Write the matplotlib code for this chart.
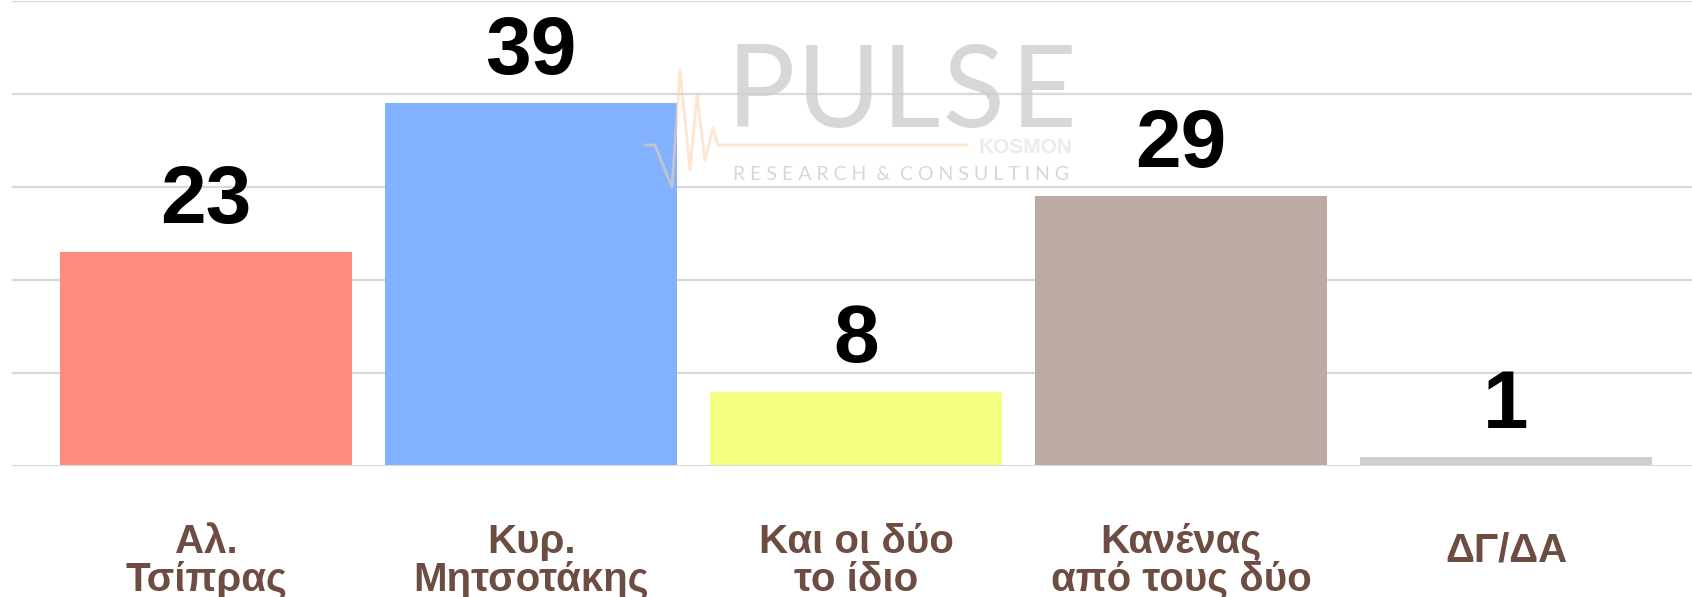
import matplotlib
matplotlib.use("Agg")
import matplotlib.pyplot as plt
from matplotlib.transforms import blended_transform_factory

categories = ["Αλ.\nΤσίπρας", "Κυρ.\nΜητσοτάκης", "Και οι δύο\nτο ίδιο", "Κανένας\nαπό τους δύο", "ΔΓ/ΔΑ"]
values = [23, 39, 8, 29, 1]
colors = ["#FF8A80", "#82B1FF", "#F4FF81", "#BCAAA4", "#CFCFCF"]
grid_levels = [10, 20, 30, 40, 50]

W, H = 1692, 597
fig = plt.figure(figsize=(W / 100, H / 100), dpi=100)
ax = fig.add_axes([12 / W, 1 - 466 / H, 1 - 12 / W, 465 / H])

x = list(range(len(categories)))
for lvl in grid_levels:
    ax.axhline(lvl, color="#D9D9D9", lw=1.6, zorder=0)
ax.axhline(0, color="#D9D9D9", lw=2.2, zorder=3)

ax.bar(x, values, width=0.9, color=colors, zorder=2)

for xi, v in zip(x, values):
    ax.annotate(str(v), xy=(xi, v), xytext=(0, 21), textcoords="offset points",
                ha="center", va="baseline", fontsize=59, fontweight="bold",
                family=["Liberation Sans", "DejaVu Sans"], color="black", zorder=5)

trans = blended_transform_factory(ax.transData, ax.transAxes)
for xi, lab in zip(x, categories):
    ypos = -0.204 if "\n" in lab else -0.181
    ax.text(xi, ypos, lab, transform=trans, ha="center", va="center",
            fontsize=29, fontweight="bold", color="#6D4C41", linespacing=1.0,
            family=["Liberation Sans", "DejaVu Sans"])

ax.set_xlim(-0.597, 4.572)
ax.set_ylim(0, 50)
ax.set_xticks([])
ax.set_yticks([])
for s in ax.spines.values():
    s.set_visible(False)

# watermark (logo)
logo_letters = ["P", "U", "L", "S", "E"]
logo_x = [727, 797, 882, 942, 1011]
for ch, lx in zip(logo_letters, logo_x):
    fig.text(lx / W, 1 - 127 / H, ch, fontsize=82, fontweight="normal",
             family=["Lato", "DejaVu Sans"], color="#CDCDCD", alpha=0.8,
             ha="left", va="baseline", zorder=10)
fig.text(733 / W, 1 - 180 / H, "R E S E A R C H  &  C O N S U L T I N G", fontsize=14,
         family=["Lato", "DejaVu Sans"], color="#BDBDBD", alpha=0.6,
         ha="left", va="baseline", zorder=10)
fig.text(1072 / W, 1 - 153 / H, "KOSMON", fontsize=15, fontweight="bold",
         family=["Liberation Sans", "DejaVu Sans"], color="#EBEBEB",
         ha="right", va="baseline", zorder=9)
hx = [645, 655, 672, 680, 690, 697, 705, 713, 718, 967]
hy = [145, 145, 187, 70, 170, 95, 160, 128, 145, 145]
fig.add_artist(plt.Line2D([p / W for p in hx], [1 - p / H for p in hy],
                          transform=fig.transFigure, color="#FAD3A5", alpha=0.55,
                          lw=2, zorder=10))

fig.savefig("out.png", dpi=100)
